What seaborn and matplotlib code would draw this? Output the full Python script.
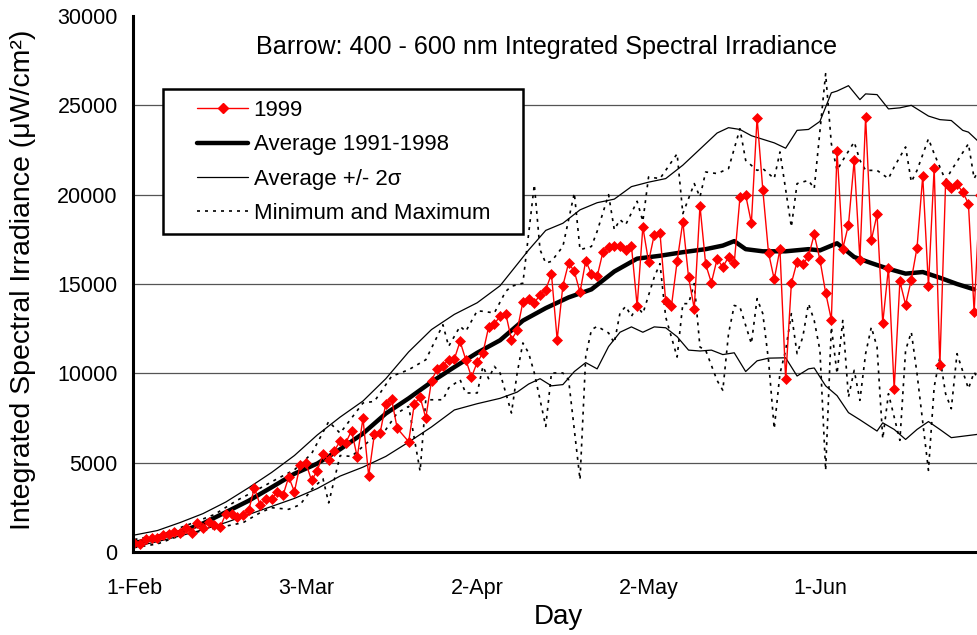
import numpy as np
import pandas as pd
import matplotlib
matplotlib.use("Agg")
import matplotlib.pyplot as plt
from matplotlib.lines import Line2D
from matplotlib.patches import Rectangle
import seaborn as sns

# day 0 = 1-Feb; 1999 daily values (day 47 missing)
y1999 = [484, 428, 708, 801, 801, 932, 988, 1119, 1081, 1361,
         1081, 1641, 1361, 1678, 1492, 1399, 2145, 2108, 1977, 2070,
         2332, 3600, 2612, 2985, 2985, 3358, 3171, 4198, 3376, 4886,
         4980, 4009, 4550, 5483, 5166, 5670, 6211, 6118, 6790, 5315,
         7480, 4271, 6603, 6659, 8301, 8562, 6920, np.nan, 6174, 8301,
         8674, 7499, 9589, 10260, 10428, 10764, 10802, 11790, 10763, 9793,
         10614, 11137, 12592, 12779, 13189, 13338, 11883, 12405, 13991, 14159,
         13935, 14402, 14682, 15559, 11883, 14906, 16175, 15708, 14533, 16305,
         15559, 15428, 16772, 17070, 17145, 17145, 16921, 17145, 13767, 18189,
         16249, 17760, 17853, 14028, 13748, 16267, 18488, 15390, 13617, 19383,
         16099, 15073, 16398, 15950, 16510, 16174, 19850, 19980, 18413, 24310,
         20279, 16752, 15260, 16939, 9661, 15036, 16249, 16099, 16547, 17779,
         16360, 14513, 13002, 22425, 16976, 18320, 21921, 16360, 24347, 17443,
         18898, 12815, 15913, 9102, 15148, 13841, 15241, 17032, 21044, 14886,
         21492, 10445, 20652, 20372, 20577, 20148, 19495, 13431, 20000]

avg_days = [0, 4, 8, 12, 16, 20, 24, 28, 32, 36, 40, 44, 48, 52, 56, 60, 64, 68,
            72, 76, 80, 84, 88, 92, 96, 100, 103, 105, 107, 110, 114, 118, 120,
            123, 126, 129, 132, 135, 138, 141, 144, 147]
avg_vals = [500, 800, 1120, 1600, 2230, 2870, 3620, 4380, 4950, 5750, 6630, 7750,
            8600, 9520, 10350, 11150, 11850, 12950, 13650, 14250, 14700, 15700,
            16420, 16580, 16780, 16950, 17150, 17400, 16950, 16830, 16830, 16950,
            16880, 17280, 16510, 16170, 15850, 15580, 15670, 15350, 15000, 14700]

up_days = [0, 4, 8, 12, 16, 20, 24, 28, 32, 36, 40, 44, 48, 52, 56, 60, 64, 67,
           69, 72, 75, 78, 81, 84, 87, 90, 93, 96, 99, 102, 104, 106, 108, 112,
           114, 116, 118, 120, 122, 123, 125, 127, 128, 130, 132, 134, 136, 139,
           141, 143, 145, 146, 148]
up_vals = [950, 1200, 1650, 2150, 2800, 3600, 4450, 5400, 6550, 7550, 8450, 9700,
           11200, 12450, 13300, 13950, 14900, 16100, 16900, 18000, 18400, 19150,
           19550, 19750, 20450, 20700, 20900, 21650, 22550, 23450, 23750, 23650,
           23300, 22900, 22600, 23600, 23650, 24100, 25700, 25800, 26100, 25320,
           25640, 25600, 24800, 24860, 25000, 24400, 24200, 24150, 23600, 23500,
           22900]

lo_days = [0, 4, 8, 12, 16, 20, 24, 28, 32, 36, 40, 44, 48, 52, 56, 60, 64, 67,
           69, 71, 73, 75, 77, 79, 81, 83, 85, 87, 89, 91, 93, 95, 97, 99, 101,
           103, 105, 107, 109, 111, 114, 116, 118, 119, 121, 123, 125, 127, 130,
           131, 133, 135, 137, 139, 141, 143, 145, 148]
lo_vals = [300, 580, 900, 1250, 1650, 2100, 2550, 3000, 3550, 4250, 4750, 5350,
           6150, 7000, 7950, 8300, 8600, 8950, 9400, 9700, 9300, 9370, 10100,
           10600, 10250, 11500, 12300, 12600, 12300, 12600, 12550, 12050, 11300,
           11250, 11300, 11050, 11150, 10100, 10700, 10850, 10870, 9850, 10250,
           10300, 9300, 8750, 7800, 7400, 6770, 7230, 6860, 6300, 6860, 7300,
           6860, 6400, 6480, 6600]

max_days = [0, 5, 10, 14, 18, 21, 25, 28, 31, 34, 36, 40, 42, 45, 48, 51, 54, 55,
            57, 58, 60, 61, 63, 65, 66, 68, 70, 71, 72, 73, 75, 77, 78, 80, 81,
            83, 84, 85, 86, 88, 89, 90, 92, 93, 95, 96, 98, 99, 100, 102, 104,
            106, 107, 109, 110, 112, 113, 115, 116, 118, 119, 121, 122, 123, 124,
            126, 127, 128, 130, 132, 133, 135, 136, 137, 139, 140, 142, 143, 146,
            147, 148]
max_vals = [700, 1000, 1600, 2100, 2900, 3400, 4100, 4600, 5500, 7300, 6650, 8340,
            8430, 9830, 10200, 10760, 12720, 11510, 12630, 12350, 13500, 13470,
            13380, 14590, 14870, 15050, 20560, 16920, 16170, 16270, 17100, 20090,
            16920, 17100, 17950, 20000, 18040, 18600, 18320, 19630, 18510, 20990,
            20900, 21360, 22290, 18940, 20620, 19870, 21270, 21180, 21460, 23690,
            21920, 21360, 21460, 20900, 22390, 18190, 20620, 20800, 20340, 26770,
            22850, 21360, 21920, 22950, 21920, 21360, 21360, 20900, 21550, 22670,
            20710, 21360, 23130, 22290, 20800, 21360, 22850, 20900, 21500]

min_days = [0, 4, 7, 10, 13, 16, 19, 22, 24, 27, 29, 31, 33, 34, 36, 38, 41, 44,
            46, 48, 50, 51, 54, 55, 57, 58, 60, 61, 62, 63, 64, 66, 67, 68, 69,
            70, 72, 73, 75, 76, 78, 79, 80, 81, 83, 84, 85, 86, 87, 88, 89, 91,
            92, 93, 95, 96, 97, 98, 99, 100, 102, 103, 104, 105, 106, 108, 109,
            110, 111, 112, 113, 114, 115, 116, 117, 118, 119, 120, 121, 122, 123,
            124, 125, 126, 127, 128, 129, 130, 131, 132, 134, 135, 136, 137, 139,
            140, 141, 142, 143, 144, 146, 147, 148]
min_vals = [250, 450, 800, 1050, 1270, 1450, 1640, 2200, 2480, 2390, 2650, 3500,
            4100, 2750, 5400, 5350, 6190, 6850, 7780, 8150, 4520, 8520, 8520, 9180,
            9640, 8900, 8900, 10390, 9700, 10390, 10020, 7780, 10020, 11700, 11140,
            10020, 7030, 10020, 10020, 9640, 4050, 10950, 12440, 12630, 12260,
            11700, 13380, 13750, 13190, 13750, 13340, 15390, 16140, 13150, 10910,
            13900, 13900, 15020, 11470, 11290, 9600, 9050, 12220, 13800, 13710,
            11660, 14180, 13340, 10730, 6900, 9980, 11290, 13340, 11100, 12030,
            13900, 12960, 11290, 4570, 12590, 9980, 12960, 8670, 10170, 8490,
            11100, 12590, 11470, 6340, 8860, 6250, 11290, 12310, 9980, 4570, 9230,
            10910, 8860, 8020, 11100, 9140, 10070, 9500]

tick_days = [0, 30, 60, 90, 120]
tick_labels = ["1-Feb", "3-Mar", "2-Apr", "2-May", "1-Jun"]
y_ticks = [0, 5000, 10000, 15000, 20000, 25000, 30000]

sns.set_style("white")
plt.rcParams["font.family"] = ["Liberation Sans", "DejaVu Sans"]
plt.rcParams["text.color"] = "black"
plt.rcParams["axes.labelcolor"] = "black"
plt.rcParams["xtick.color"] = "black"
plt.rcParams["ytick.color"] = "black"

fig = plt.figure(figsize=(9.77, 6.35), dpi=100)
ax = fig.add_axes([133 / 977, 83 / 635, 844 / 977, 536 / 635])

dot = (0, (1.8, 3))
sns.lineplot(x=max_days, y=max_vals, ax=ax, color="black", lw=1.2, linestyle=dot,
             estimator=None, errorbar=None, zorder=2)
sns.lineplot(x=min_days, y=min_vals, ax=ax, color="black", lw=1.2, linestyle=dot,
             estimator=None, errorbar=None, zorder=2)
sns.lineplot(x=up_days, y=up_vals, ax=ax, color="black", lw=0.9,
             estimator=None, errorbar=None, zorder=3)
sns.lineplot(x=lo_days, y=lo_vals, ax=ax, color="black", lw=0.9,
             estimator=None, errorbar=None, zorder=3)
sns.lineplot(x=avg_days, y=avg_vals, ax=ax, color="black", lw=3.2,
             estimator=None, errorbar=None, zorder=3)

df99 = pd.DataFrame({"day": np.arange(len(y1999)), "val": y1999}).dropna()
sns.lineplot(data=df99, x="day", y="val", ax=ax, color="red", lw=1.0,
             marker="D", markersize=5.5, markeredgecolor="red",
             markeredgewidth=0.5, estimator=None, errorbar=None, zorder=4)

ax.set_xlim(-0.26, 147.5)
ax.set_ylim(0, 30000)
ax.set_xticks(tick_days)
ax.set_xticklabels(tick_labels)
ax.set_yticks(y_ticks)
ax.tick_params(axis="x", direction="in", length=6, width=1.6, labelsize=15.5, pad=19)
ax.tick_params(axis="y", direction="in", length=6, width=1.6, labelsize=15.5, pad=11)

for s in ["top", "right"]:
    ax.spines[s].set_visible(False)
for s in ["left", "bottom"]:
    ax.spines[s].set_linewidth(2.2)
    ax.spines[s].set_color("black")
    ax.spines[s].set_zorder(6)

ax.yaxis.grid(True, color="#555555", linewidth=0.9)
ax.xaxis.grid(False)
ax.set_axisbelow(True)
ax.get_ygridlines()[-1].set_visible(False)

ax.set_xlabel("Day", fontsize=20, va="center")
ax.xaxis.set_label_coords(0.5036, -0.121)
ax.set_ylabel("Integrated Spectral Irradiance (\u03bcW/cm\u00b2)", fontsize=20.5, va="center")
ax.yaxis.set_label_coords(-0.1303, 0.507)

ax.text(0.4905, 0.942, "Barrow: 400 - 600 nm Integrated Spectral Irradiance",
        transform=ax.transAxes, ha="center", va="center", fontsize=18.1)

# legend box
box = Rectangle((0.0355, 0.5933), 0.4265, 0.2705, transform=ax.transAxes,
                facecolor="white", edgecolor="black", lw=1.8, zorder=6)
ax.add_patch(box)

handles = [
    Line2D([], [], color="red", lw=1.0, marker="D", markersize=5.5,
           markeredgecolor="red"),
    Line2D([], [], color="black", lw=3.2),
    Line2D([], [], color="black", lw=0.9),
    Line2D([], [], color="black", lw=1.2, linestyle=dot),
]
labels = ["1999", "Average 1991-1998", "Average +/- 2\u03c3", "Minimum and Maximum"]
leg = ax.legend(handles, labels, loc="upper left", bbox_to_anchor=(0.0758, 0.8433),
                frameon=False, fontsize=16, handlelength=2.3, handletextpad=0.25,
                labelspacing=0.6, borderpad=0, borderaxespad=0, numpoints=1)
leg.set_zorder(7)

fig.savefig("out.png", dpi=100)
